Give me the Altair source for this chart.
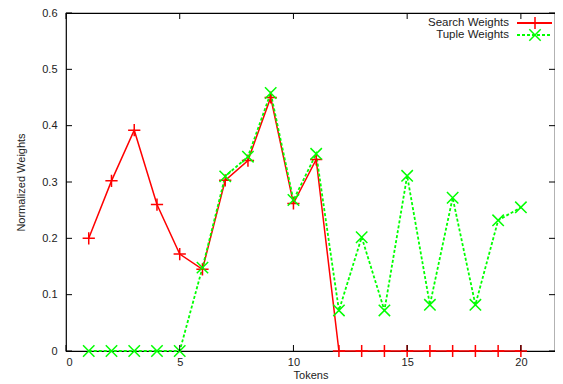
import altair as alt
import pandas as pd

tokens = list(range(1, 21))
search_weights = [0.200, 0.302, 0.392, 0.260, 0.172, 0.145, 0.303, 0.338, 0.450, 0.262,
                  0.340, 0, 0, 0, 0, 0, 0, 0, 0, 0]
tuple_weights = [0, 0, 0, 0, 0, 0.148, 0.310, 0.345, 0.458, 0.268,
                 0.350, 0.072, 0.202, 0.072, 0.311, 0.082, 0.272, 0.082, 0.232, 0.255]
x_ticks = [0, 5, 10, 15, 20]
y_ticks = [0, 0.1, 0.2, 0.3, 0.4, 0.5, 0.6]

W, H = 489, 338
RED = "#ff0000"
GREEN = "#00ff00"
PLUS = "M-1,0L1,0M0,-1L0,1"
CROSS = "M-1,-1L1,1M-1,1L1,-1"
FONT = "Liberation Sans"
TXT = "#222222"

df = pd.DataFrame({"Tokens": tokens, "search": search_weights, "tuple": tuple_weights})
xt = pd.DataFrame({"v": x_ticks})
yt = pd.DataFrame({"v": y_ticks})

xs = alt.Scale(domain=[0, 21.5], nice=False, zero=False)
ys = alt.Scale(domain=[0, 0.6], nice=False)

base = alt.Chart(df)

x_enc = alt.X("Tokens:Q", scale=xs,
              axis=alt.Axis(values=x_ticks, title="Tokens", grid=False, tickSize=0,
                            domain=False, labelPadding=5, titlePadding=2,
                            labelFont=FONT, titleFont=FONT, labelFontSize=11,
                            titleFontSize=11, titleFontWeight="normal",
                            labelColor=TXT, titleColor=TXT))

search_line = base.mark_line(color=RED, strokeWidth=1.5).encode(
    x=x_enc,
    y=alt.Y("search:Q", scale=ys,
            axis=alt.Axis(values=y_ticks, title="Normalized Weights", grid=False,
                          tickSize=0, domain=False, labelPadding=9, titlePadding=15,
                          format="~g", labelFont=FONT, titleFont=FONT,
                          labelFontSize=11, titleFontSize=11,
                          titleFontWeight="normal", labelColor=TXT,
                          titleColor=TXT)))
search_pts = base.mark_point(shape=PLUS, size=150, color=RED, strokeWidth=1.5,
                             filled=False, opacity=1).encode(
    x=alt.X("Tokens:Q", scale=xs), y=alt.Y("search:Q", scale=ys))

tuple_line = base.mark_line(color=GREEN, strokeWidth=1.8, strokeDash=[3, 2]).encode(
    x=alt.X("Tokens:Q", scale=xs), y=alt.Y("tuple:Q", scale=ys))
tuple_pts = base.mark_point(shape=CROSS, size=130, color=GREEN, strokeWidth=1.5,
                            filled=False, opacity=1).encode(
    x=alt.X("Tokens:Q", scale=xs), y=alt.Y("tuple:Q", scale=ys))

# inside ticks on all four sides
tk = 6
xb = alt.Chart(xt).mark_rule(color="black", strokeWidth=1).encode(
    x=alt.X("v:Q", scale=xs), y=alt.value(H), y2=alt.value(H - tk))
xtp = alt.Chart(xt).mark_rule(color="black", strokeWidth=1).encode(
    x=alt.X("v:Q", scale=xs), y=alt.value(0), y2=alt.value(tk))
yl = alt.Chart(yt).mark_rule(color="black", strokeWidth=1).encode(
    y=alt.Y("v:Q", scale=ys), x=alt.value(0), x2=alt.value(tk))
yr = alt.Chart(yt).mark_rule(color="black", strokeWidth=1).encode(
    y=alt.Y("v:Q", scale=ys), x=alt.value(W), x2=alt.value(W - tk))

# legend (label left of sample, gnuplot style)
leg = []
for i, (lab, col, shp, sz, dash) in enumerate([
        ("Search Weights", RED, PLUS, 150, [1, 0]),
        ("Tuple Weights", GREEN, CROSS, 130, [3, 2])]):
    yy = 10 + 12 * i
    one = pd.DataFrame({"label": [lab]})
    c = alt.Chart(one)
    leg.append(c.mark_text(align="right", baseline="middle", font=FONT, fontSize=11.5,
                           color=TXT).encode(
        text="label:N", x=alt.value(443), y=alt.value(yy)))
    leg.append(c.mark_rule(color=col, strokeWidth=1.8, strokeDash=dash).encode(
        x=alt.value(451), x2=alt.value(486), y=alt.value(yy)))
    leg.append(c.mark_point(shape=shp, size=sz, color=col, strokeWidth=1.5,
                            filled=False, opacity=1).encode(
        x=alt.value(469), y=alt.value(yy)))

chart = alt.layer(search_line, tuple_line, search_pts, tuple_pts, xb, xtp, yl, yr,
                  *leg).properties(
    width=W, height=H,
    autosize=alt.AutoSizeParams(type="none"),
    padding={"left": 58, "top": 5, "right": 0, "bottom": 30},
    background="white",
).configure_view(stroke="black", strokeWidth=1.2)

chart.save("out.html", embed_options={"renderer": "svg", "actions": False})
